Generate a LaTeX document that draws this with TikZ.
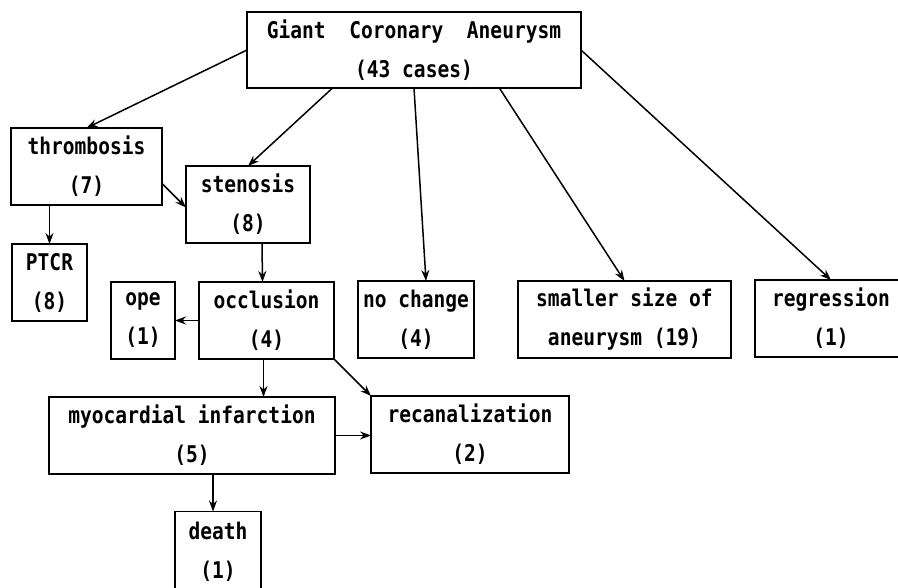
\documentclass[tikz,border=0pt]{standalone}
\usepackage{fontspec}
\usepackage{tikz}
\usetikzlibrary{arrows.meta}
\newfontfamily\boxfont[FakeStretch=0.85]{DejaVu Sans Mono}

\begin{document}
\begin{tikzpicture}[x=1pt,y=-1pt,
    every node/.style={draw,rectangle,line width=1.6pt,inner sep=0pt,outer sep=0pt,
        align=center,minimum height=77pt,font=\boxfont\bfseries\fontsize{23}{39}\selectfont},
    arr/.style={line width=1.5pt,-{Stealth[length=11pt,width=8pt]}}]
                \useasboundingbox (0,0) rectangle (898,588);
                \clip (0,0) rectangle (898,588);

                \node[minimum width=334pt,minimum height=76pt] (giant) at (414,50) {Giant~~Coronary~~Aneurysm\\(43 cases)};
                \node[minimum width=151pt] (thromb) at (86.5,166.5) {thrombosis\\(7)};
                \node[minimum width=124pt] (sten) at (248,204.5) {stenosis\\(8)};
                \node[minimum width=75pt] (ptcr) at (49.5,282.5) {PTCR\\(8)};
                \node[minimum width=64pt] (ope) at (143,320.5) {ope\\(1)};
                \node[minimum width=135pt] (occl) at (266.5,320.5) {occlusion\\(4)};
                \node[minimum width=116pt] (nochg) at (416,319.5) {no change\\(4)};
                \node[minimum width=213pt] (smaller) at (624.5,319.5) {smaller size of\\aneurysm (19)};
                \node[minimum width=152pt] (regr) at (831,318.5) {regression\\(1)};
                \node[minimum width=286pt] (myo) at (192,435.5) {myocardial infarction\\(5)};
                \node[minimum width=198pt] (recan) at (470,434.5) {recanalization\\(2)};
                \node[minimum width=86pt,minimum height=80pt] (death) at (218,551.5) {death\\(1)};

                \draw[arr] (giant.west) -- (thromb.north);
                \draw[arr] (giant.205) -- (sten.north);
                \draw[arr] (giant.south) -- ([xshift=10pt]nochg.north);
                \draw[arr] (giant.336) -- (smaller.north);
                \draw[arr] (giant.east) -- (regr.north);
                \draw[arr] ([yshift=-17pt]thromb.east) -- ([yshift=-3pt]sten.west);
                \draw[arr] (thromb.south -| ptcr.north) -- (ptcr.north);
                \draw[arr] ([xshift=14pt]sten.south) -- ([xshift=-4pt]occl.north);
                \draw[arr] (occl.west) -- (ope.east);
                \draw[arr] ([xshift=-3pt]occl.south) coordinate (o1) -- (o1 |- myo.north);
                \draw[arr] (occl.south east) -- (recan.north west);
                \draw[arr] (myo.east) -- (myo.east -| recan.west);
                \draw[arr] ([xshift=21pt]myo.south) coordinate (m1) -- (m1 |- death.north);
            \end{tikzpicture}
\end{document}
